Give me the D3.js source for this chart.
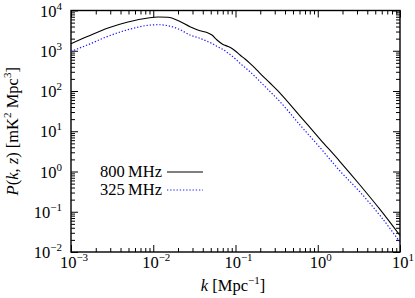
<!DOCTYPE html>
<html><head><meta charset="utf-8">
<script src="https://cdn.jsdelivr.net/npm/d3@7"></script>
<style>body{margin:0;background:#fff}svg{display:block}</style>
</head><body><svg id="c" width="415" height="298" font-family="'Liberation Serif', 'Times New Roman', Times, 'Nimbus Roman', 'Tinos', serif"></svg>
<script>
const kVals = [0.001,0.00161,0.00282,0.00493,0.00863,0.01143,0.0151,0.0206,0.0280,0.0370,0.0450,0.0518,0.0596,0.0705,0.0811,0.0906,0.1014,0.1135,0.1306,0.150,0.1726,0.1986,0.2626,0.3475,0.6085,1.064,1.862,3.26,5.71,10];
const p800 = [1500,2290,3670,5180,6520,6900,6780,5480,3960,3150,2840,2460,1850,1430,1280,1140,960,783,624,488,372,275,158,89.1,23.9,6.41,1.77,0.462,0.114,0.0257];
const p325 = [968,1413,2286,3334,4285,4436,4188,3428,2460,2037,1726,1514,1276,1074,879,741,607,488,384,302,229,172,97.3,54.2,14.3,3.94,1.03,0.31,0.0807,0.0177];
const seriesNames = ["800 MHz","325 MHz"];
const xTickExp = [-3,-2,-1,0,1];
const yTickExp = [-2,-1,0,1,2,3,4];

const svg = d3.select("#c");
const L=71,R=400,T=10.5,B=252;
const x = d3.scaleLog().domain([1e-3,10]).range([L,R]);
const y = d3.scaleLog().domain([1e-2,1e4]).range([B,T]);

function minors(lo,hi){const a=[];for(let e=lo;e<hi;e++)for(let m=2;m<=9;m++)a.push(m*Math.pow(10,e));return a;}
const xMaj = xTickExp.map(e=>Math.pow(10,e)), yMaj = yTickExp.map(e=>Math.pow(10,e));
const xMin = minors(-3,1), yMin = minors(-2,4);

function ax(gen, scale, vals, size, tr){
  const g = svg.append("g").attr("transform",tr).call(gen(scale).tickValues(vals).tickSize(size).tickFormat(""));
  g.select(".domain").remove();
  g.selectAll(".tick line").attr("stroke","#000").attr("stroke-width",1);
}
ax(d3.axisBottom,x,xMaj,-7,`translate(0,${B})`);
ax(d3.axisBottom,x,xMin,-4,`translate(0,${B})`);
ax(d3.axisTop,x,xMaj,-7,`translate(0,${T})`);
ax(d3.axisTop,x,xMin,-4,`translate(0,${T})`);
ax(d3.axisLeft,y,yMaj,-7,`translate(${L},0)`);
ax(d3.axisLeft,y,yMin,-4,`translate(${L},0)`);
ax(d3.axisRight,y,yMaj,-7,`translate(${R},0)`);
ax(d3.axisRight,y,yMin,-4,`translate(${R},0)`);

svg.append("rect").attr("x",L).attr("y",T).attr("width",R-L).attr("height",B-T)
  .attr("fill","none").attr("stroke","#000").attr("stroke-width",1.4);

function sup(t, base, ex){
  t.append("tspan").text(base);
  t.append("tspan").attr("font-size",11).attr("dy",-7).text(ex);
}
const fs=16.5;
xTickExp.forEach(e=>{
  const t=svg.append("text").attr("x",x(Math.pow(10,e))+3).attr("y",268).attr("text-anchor","middle").attr("font-size",fs);
  sup(t,"10",e<0?"\u2212"+(-e):""+e);
});
yTickExp.forEach(e=>{
  const t=svg.append("text").attr("x",62).attr("y",y(Math.pow(10,e))+6).attr("text-anchor","end").attr("font-size",fs);
  sup(t,"10",e<0?"\u2212"+(-e):""+e);
});

// axis titles
const xt=svg.append("text").attr("x",233).attr("y",291).attr("text-anchor","middle").attr("font-size",fs);
xt.append("tspan").attr("font-style","italic").text("k");
xt.append("tspan").text(" [Mpc");
xt.append("tspan").attr("font-size",11).attr("dy",-7).text("\u22121");
xt.append("tspan").attr("dy",7).text("]");

const yt=svg.append("text").attr("transform",`translate(18,${(T+B)/2}) rotate(-90)`).attr("text-anchor","middle").attr("font-size",fs);
yt.append("tspan").attr("font-style","italic").text("P");
yt.append("tspan").text("(");
yt.append("tspan").attr("font-style","italic").text("k");
yt.append("tspan").text(", ");
yt.append("tspan").attr("font-style","italic").text("z");
yt.append("tspan").text(") [mK");
yt.append("tspan").attr("font-size",11).attr("dy",-7).text("2");
yt.append("tspan").attr("dy",7).text(" Mpc");
yt.append("tspan").attr("font-size",11).attr("dy",-7).text("3");
yt.append("tspan").attr("dy",7).text("]");

// curves
const line = d3.line().x(d=>x(d[0])).y(d=>y(d[1])).curve(d3.curveMonotoneX);
const styles=[{c:"#000",w:1.1,da:null},{c:"#1a1aff",w:1.2,da:"1.3,1.9"}];
[p800,p325].forEach((s,i)=>{
  const p=svg.append("path").datum(kVals.map((k,j)=>[k,s[j]])).attr("d",line)
    .attr("fill","none").attr("stroke",styles[i].c).attr("stroke-width",styles[i].w);
  if(styles[i].da) p.attr("stroke-dasharray",styles[i].da);
});

// legend
seriesNames.forEach((n,i)=>{
  const yy=177+i*18;
  svg.append("text").attr("x",162).attr("y",yy).attr("text-anchor","end").attr("font-size",fs).text(n.replace(" ","\u2009"));
  const l=svg.append("line").attr("x1",167).attr("x2",203).attr("y1",yy-5).attr("y2",yy-5)
    .attr("stroke",styles[i].c).attr("stroke-width",styles[i].w);
  if(styles[i].da) l.attr("stroke-dasharray",styles[i].da);
});
</script></body></html>
